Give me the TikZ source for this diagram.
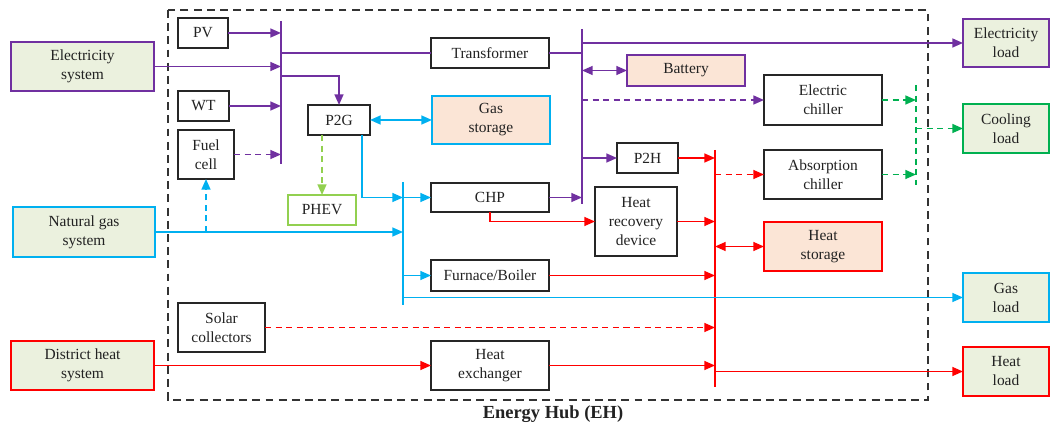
\documentclass[tikz,border=0pt]{standalone}
\usepackage{fontspec}
\setmainfont{Liberation Serif}
\usetikzlibrary{arrows.meta,calc}
\definecolor{cpur}{HTML}{7030A0}
\definecolor{ccyan}{HTML}{00B0F0}
\definecolor{cred}{HTML}{FF0000}
\definecolor{cgreen}{HTML}{00B050}
\definecolor{clgreen}{HTML}{92D050}
\definecolor{csys}{HTML}{EBF1DE}
\definecolor{cstor}{HTML}{FBE5D6}
\definecolor{ctext}{HTML}{222222}
\newcommand{\bx}[7]{\node[#1,minimum width={(#4-#2)*0.02cm},minimum height={(#5-#3)*0.02cm}] (#6) at ({(#2+#4)/2},{(#3+#5)/2}) {#7};}
\begin{document}
\begin{tikzpicture}[x=0.02cm,y=-0.02cm,font=\fontsize{8.8}{10.8}\selectfont,
  box/.style={draw=black!85,line width=1.1pt,fill=white,align=center,inner sep=1pt,outer sep=0pt,text=ctext},
  sysbox/.style={box,fill=csys},
  storbox/.style={box,fill=cstor},
  tip/.style={-{Triangle[length=6pt,width=5pt]}},
  dtip/.style={{Triangle[length=6pt,width=5pt]}-{Triangle[length=6pt,width=5pt]}},
  dsh/.style={dash pattern=on 3.5pt off 2.5pt},
  pl/.style={draw=cpur,line width=1pt},
  cl/.style={draw=ccyan,line width=1pt},
  rl/.style={draw=cred,line width=1pt},
  gl/.style={draw=cgreen,line width=1pt},
  lgl/.style={draw=clgreen,line width=1pt},
  bus/.style={line width=1.2pt}]
\useasboundingbox (0,0) rectangle (1050,428);
% Energy hub boundary
\draw[draw=black!80,line width=1pt,dash pattern=on 4.5pt off 3pt] (168,10) rectangle (928,400);
\node[font=\bfseries\fontsize{10.5}{12}\selectfont,text=ctext] (eh) at (553,414) {Energy Hub (EH)};
% bus coordinates
\coordinate (b1t) at (281,21); \coordinate (b1b) at (281,164);
\coordinate (b2t) at (582,29); \coordinate (b2b) at (582,204);
\coordinate (cbt) at (403,182); \coordinate (cbb) at (403,305);
\coordinate (rbt) at (715,150); \coordinate (rbb) at (715,387);
\coordinate (gbt) at (916,85); \coordinate (gbb) at (916,185);
\coordinate (p2gtap) at (281,76);
% outer boxes
\bx{sysbox,draw=cpur}{11}{42}{154}{91}{ES}{Electricity\\system}
\bx{sysbox,draw=ccyan}{13}{207}{155}{257}{NG}{Natural gas\\system}
\bx{sysbox,draw=cred}{11}{341}{154}{390}{DH}{District heat\\system}
\bx{sysbox,draw=cpur}{963}{19}{1049}{67}{EL}{Electricity\\load}
\bx{sysbox,draw=cgreen}{963}{104}{1049}{153}{CL}{Cooling\\load}
\bx{sysbox,draw=ccyan}{963}{273}{1049}{322}{GL}{Gas\\load}
\bx{sysbox,draw=cred}{963}{347}{1049}{396}{HL}{Heat\\load}
% inner boxes
\bx{box}{178}{18}{228}{48}{PV}{PV}
\bx{box}{178}{91}{229}{121}{WT}{WT}
\bx{box}{178}{130}{234}{179}{FC}{Fuel\\cell}
\bx{box}{308}{105}{370}{135}{P2G}{P2G}
\bx{box,draw=clgreen}{288}{195}{356}{225}{PHEV}{PHEV}
\bx{box}{431}{38}{549}{68}{TR}{Transformer}
\bx{storbox,draw=ccyan}{432}{96}{550}{144}{GS}{Gas\\storage}
\bx{storbox,draw=cpur}{627}{55}{745}{86}{BAT}{Battery}
\bx{box}{617}{143}{678}{173}{P2H}{P2H}
\bx{box}{431}{183}{549}{212}{CHP}{CHP}
\bx{box}{595}{187}{677}{256}{HRD}{Heat\\recovery\\device}
\bx{box}{431}{260}{549}{291}{FB}{Furnace/Boiler}
\bx{box}{431}{341}{549}{390}{HX}{Heat\\exchanger}
\bx{box}{178}{303}{265}{352}{SC}{Solar\\collectors}
\bx{box}{764}{75}{882}{125}{EC}{Electric\\chiller}
\bx{box}{764}{150}{882}{199}{AC}{Absorption\\chiller}
\bx{storbox,draw=cred}{764}{222}{882}{271}{HS}{Heat\\storage}
% buses
\draw[pl,bus] (b1t) -- (b1b);
\draw[pl,bus] (b2t) -- (b2b);
\draw[cl,bus] (cbt) -- (cbb);
\draw[rl,bus] (rbt) -- (rbb);
\draw[gl,bus,dsh] (gbt) -- (gbb);
% electricity
\draw[pl,tip] (PV.east) -- (PV.east -| b1t);
\draw[pl,tip] (ES.east) -- (ES.east -| b1t);
\draw[pl,tip] (WT.east) -- (WT.east -| b1t);
\draw[pl,tip,dsh] (FC.east) -- (FC.east -| b1t);
\draw[pl] (TR.west -| b1t) -- (TR.west);
\draw[pl] (TR.east) -- (TR.east -| b2t);
\draw[pl,tip] (p2gtap) -| (P2G.north);
\draw[pl,tip] (CHP.east) -- (CHP.east -| b2t);
\draw[pl,tip] (EL.west -| b2t) -- (EL.west);
\draw[pl,dtip] (BAT.west -| b2t) -- (BAT.west);
\draw[pl,tip,dsh] (EC.west -| b2t) -- (EC.west);
\draw[pl,tip] (P2H.west -| b2t) -- (P2H.west);
% gas
\draw[cl,dtip] (P2G.east) -- (GS.west);
\draw[lgl,tip,dsh] (PHEV.north |- P2G.south) -- (PHEV.north);
\draw[cl,tip] ([xshift=-0.16cm]P2G.south east) |- (CHP.west -| cbt);
\draw[cl,tip] (NG.east) -- (NG.east -| cbt);
\draw[cl,tip,dsh] (NG.east -| FC.south) -- (FC.south);
\draw[cl,tip] (CHP.west -| cbt) -- (CHP.west);
\draw[cl,tip] (FB.west -| cbt) -- (FB.west);
\draw[cl,tip] (GL.west -| cbt) -- (GL.west);
% heat
\draw[rl,tip] (CHP.south) |- (HRD.west);
\draw[rl,tip] (HRD.east) -- (HRD.east -| rbt);
\draw[rl,tip] (FB.east) -- (FB.east -| rbt);
\draw[rl,tip,dsh] (SC.east) -- (SC.east -| rbt);
\draw[rl,tip] (DH.east) -- (HX.west);
\draw[rl,tip] (HX.east) -- (HX.east -| rbt);
\draw[rl,tip] (HL.west -| rbt) -- (HL.west);
\draw[rl,dtip] (HS.west -| rbt) -- (HS.west);
\draw[rl,tip] (P2H.east) -- (P2H.east -| rbt);
\draw[rl,tip,dsh] (AC.west -| rbt) -- (AC.west);
% cooling
\draw[gl,tip,dsh] (EC.east) -- (EC.east -| gbt);
\draw[gl,tip,dsh] (AC.east) -- (AC.east -| gbt);
\draw[gl,tip,dsh] (CL.west -| gbt) -- (CL.west);
\end{tikzpicture}
\end{document}
